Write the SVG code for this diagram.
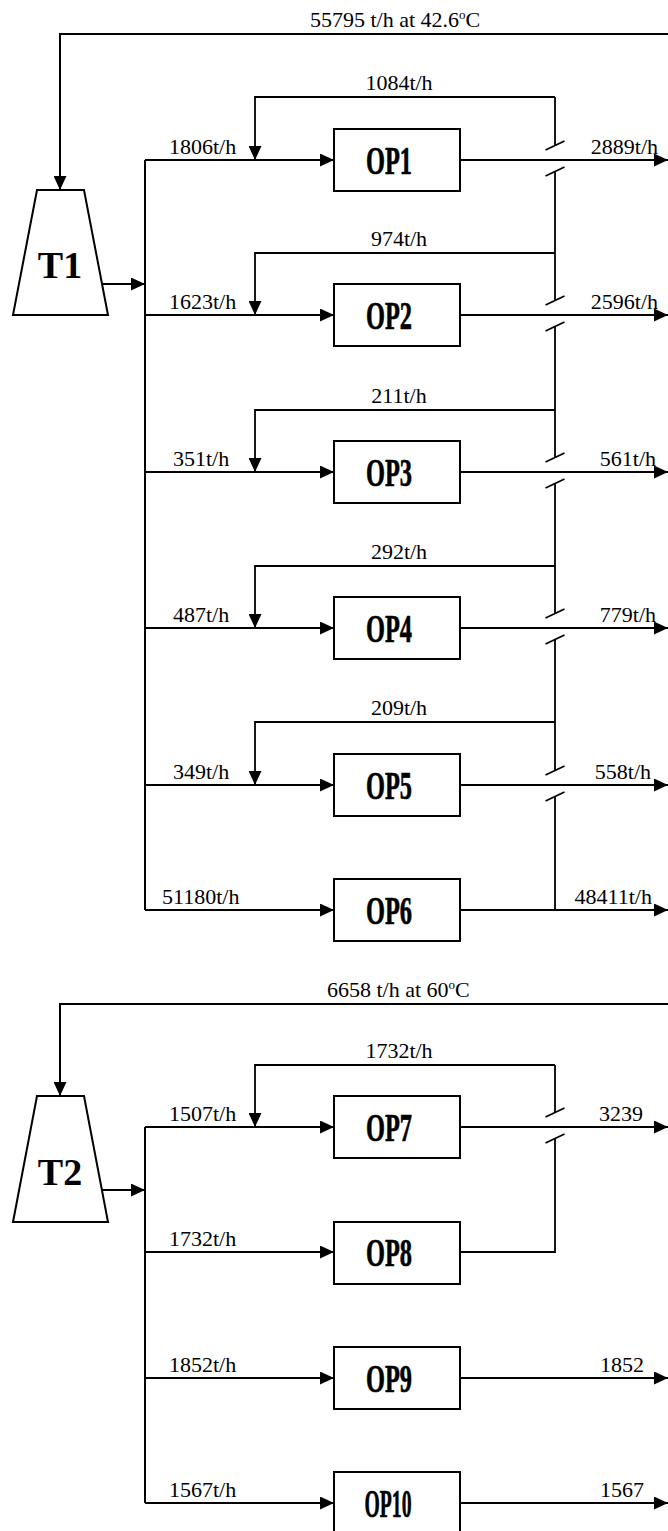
<svg xmlns="http://www.w3.org/2000/svg" width="668" height="1531" viewBox="0 0 668 1531">
<style>
.ln{stroke:#000;stroke-width:2;fill:none}
.fb{stroke:#000;stroke-width:1.8;fill:none}
.box{fill:#fff;stroke:#000;stroke-width:2}
.lbl{font-family:"Liberation Serif","Times New Roman",serif;font-size:22px;fill:#000}
.end{text-anchor:end}
.mid{text-anchor:middle}
.op{font-family:"Liberation Serif","Times New Roman",serif;font-weight:bold;font-size:40px;text-anchor:middle;fill:#000;stroke:#000;stroke-width:0.7}
.t{font-family:"Liberation Serif","Times New Roman",serif;font-weight:bold;font-size:38px;text-anchor:middle;fill:#000}
</style>
<defs>
<marker id="ah" markerUnits="userSpaceOnUse" viewBox="0 0 14 13" refX="14" refY="6.5" markerWidth="14" markerHeight="13" orient="auto">
<path d="M0,0 L14,6.5 L0,13 z" fill="#000"/>
</marker>
</defs>

<g id="connectors">
<!-- T1 section -->
<path class="ln" d="M668,34 H60 V190" marker-end="url(#ah)"/>
<path class="ln" d="M102,284 H145" marker-end="url(#ah)"/>
<path class="ln" d="M145,160 V910"/>
<path class="ln" d="M145,160 H334" marker-end="url(#ah)"/>
<path class="ln" d="M145,315 H334" marker-end="url(#ah)"/>
<path class="ln" d="M145,472 H334" marker-end="url(#ah)"/>
<path class="ln" d="M145,628 H334" marker-end="url(#ah)"/>
<path class="ln" d="M145,785 H334" marker-end="url(#ah)"/>
<path class="ln" d="M145,910 H334" marker-end="url(#ah)"/>
<path class="fb" d="M555,97 H255 V160" marker-end="url(#ah)"/>
<path class="fb" d="M555,253 H255 V315" marker-end="url(#ah)"/>
<path class="fb" d="M555,410 H255 V472" marker-end="url(#ah)"/>
<path class="fb" d="M555,566 H255 V628" marker-end="url(#ah)"/>
<path class="fb" d="M555,722 H255 V785" marker-end="url(#ah)"/>
<path class="fb" d="M555,97 V146 M555,171 V301 M555,326 V458 M555,483 V614 M555,639 V771 M555,796 V910"/>
<path class="fb" d="M545.5,150 L564.5,141 M545.5,176 L564.5,167 M545.5,305 L564.5,296 M545.5,331 L564.5,322 M545.5,462 L564.5,453 M545.5,488 L564.5,479 M545.5,618 L564.5,609 M545.5,644 L564.5,635 M545.5,775 L564.5,766 M545.5,801 L564.5,792"/>
<path class="ln" d="M460,160 H668" marker-end="url(#ah)"/>
<path class="ln" d="M460,315 H668" marker-end="url(#ah)"/>
<path class="ln" d="M460,472 H668" marker-end="url(#ah)"/>
<path class="ln" d="M460,628 H668" marker-end="url(#ah)"/>
<path class="ln" d="M460,785 H668" marker-end="url(#ah)"/>
<path class="ln" d="M460,910 H668" marker-end="url(#ah)"/>

<text class="lbl" x="310" y="27">55795 t/h at 42.6<tspan font-size="13" dy="-8">o</tspan><tspan dy="8">C</tspan></text>
<text class="lbl mid" x="399" y="90">1084t/h</text>
<text class="lbl mid" x="399" y="246">974t/h</text>
<text class="lbl mid" x="399" y="403">211t/h</text>
<text class="lbl mid" x="399" y="559">292t/h</text>
<text class="lbl mid" x="399" y="715">209t/h</text>
<text class="lbl" x="169" y="154">1806t/h</text>
<text class="lbl" x="169" y="309">1623t/h</text>
<text class="lbl" x="173" y="466">351t/h</text>
<text class="lbl" x="173" y="622">487t/h</text>
<text class="lbl" x="173" y="779">349t/h</text>
<text class="lbl" x="162" y="904">51180t/h</text>
<text class="lbl end" x="658" y="154">2889t/h</text>
<text class="lbl end" x="658" y="309">2596t/h</text>
<text class="lbl end" x="656" y="466">561t/h</text>
<text class="lbl end" x="656" y="622">779t/h</text>
<text class="lbl end" x="651" y="779">558t/h</text>
<text class="lbl end" x="652" y="904">48411t/h</text>

<!-- T2 section -->
<path class="ln" d="M668,1004 H60 V1096" marker-end="url(#ah)"/>
<path class="ln" d="M102,1190 H145" marker-end="url(#ah)"/>
<path class="ln" d="M145,1127 V1503"/>
<path class="ln" d="M145,1127 H334" marker-end="url(#ah)"/>
<path class="ln" d="M145,1252 H334" marker-end="url(#ah)"/>
<path class="ln" d="M145,1378 H334" marker-end="url(#ah)"/>
<path class="ln" d="M145,1503 H334" marker-end="url(#ah)"/>
<path class="fb" d="M555,1065 H255 V1127" marker-end="url(#ah)"/>
<path class="fb" d="M555,1065 V1113 M555,1138 V1252 H460"/>
<path class="fb" d="M545.5,1117 L564.5,1108 M545.5,1143 L564.5,1134"/>
<path class="ln" d="M460,1127 H668" marker-end="url(#ah)"/>
<path class="ln" d="M460,1378 H668" marker-end="url(#ah)"/>
<path class="ln" d="M460,1503 H668" marker-end="url(#ah)"/>

<text class="lbl" x="327" y="997">6658 t/h at 60<tspan font-size="13" dy="-8">o</tspan><tspan dy="8">C</tspan></text>
<text class="lbl mid" x="399" y="1058">1732t/h</text>
<text class="lbl" x="169" y="1121">1507t/h</text>
<text class="lbl" x="169" y="1246">1732t/h</text>
<text class="lbl" x="169" y="1372">1852t/h</text>
<text class="lbl" x="169" y="1497">1567t/h</text>
<text class="lbl end" x="643" y="1121">3239</text>
<text class="lbl end" x="644" y="1372">1852</text>
<text class="lbl end" x="644" y="1497">1567</text>
</g>

<g id="T1">
<path class="box" stroke-width="1.6" d="M37,190 H84 L108,315 H13 Z"/>
<text class="t" x="60" y="278">T1</text>
</g>
<g id="T2">
<path class="box" stroke-width="1.6" d="M37,1096 H84 L108,1222 H13 Z"/>
<text class="t" x="60" y="1185">T2</text>
</g>

<g id="OP1"><rect class="box" x="334" y="129" width="126" height="62"/><text class="op" x="389" y="174" textLength="46" lengthAdjust="spacingAndGlyphs">OP1</text></g>
<g id="OP2"><rect class="box" x="334" y="284" width="126" height="62"/><text class="op" x="389" y="329" textLength="46" lengthAdjust="spacingAndGlyphs">OP2</text></g>
<g id="OP3"><rect class="box" x="334" y="441" width="126" height="62"/><text class="op" x="389" y="486" textLength="46" lengthAdjust="spacingAndGlyphs">OP3</text></g>
<g id="OP4"><rect class="box" x="334" y="597" width="126" height="62"/><text class="op" x="389" y="642" textLength="46" lengthAdjust="spacingAndGlyphs">OP4</text></g>
<g id="OP5"><rect class="box" x="334" y="754" width="126" height="62"/><text class="op" x="389" y="799" textLength="46" lengthAdjust="spacingAndGlyphs">OP5</text></g>
<g id="OP6"><rect class="box" x="334" y="879" width="126" height="62"/><text class="op" x="389" y="924" textLength="46" lengthAdjust="spacingAndGlyphs">OP6</text></g>
<g id="OP7"><rect class="box" x="334" y="1096" width="126" height="62"/><text class="op" x="389" y="1141" textLength="46" lengthAdjust="spacingAndGlyphs">OP7</text></g>
<g id="OP8"><rect class="box" x="334" y="1222" width="126" height="62"/><text class="op" x="389" y="1266" textLength="46" lengthAdjust="spacingAndGlyphs">OP8</text></g>
<g id="OP9"><rect class="box" x="334" y="1347" width="126" height="62"/><text class="op" x="389" y="1392" textLength="46" lengthAdjust="spacingAndGlyphs">OP9</text></g>
<g id="OP10"><rect class="box" x="334" y="1472" width="126" height="62"/><text class="op" x="388" y="1517" textLength="47" lengthAdjust="spacingAndGlyphs">OP10</text></g>
</svg>
